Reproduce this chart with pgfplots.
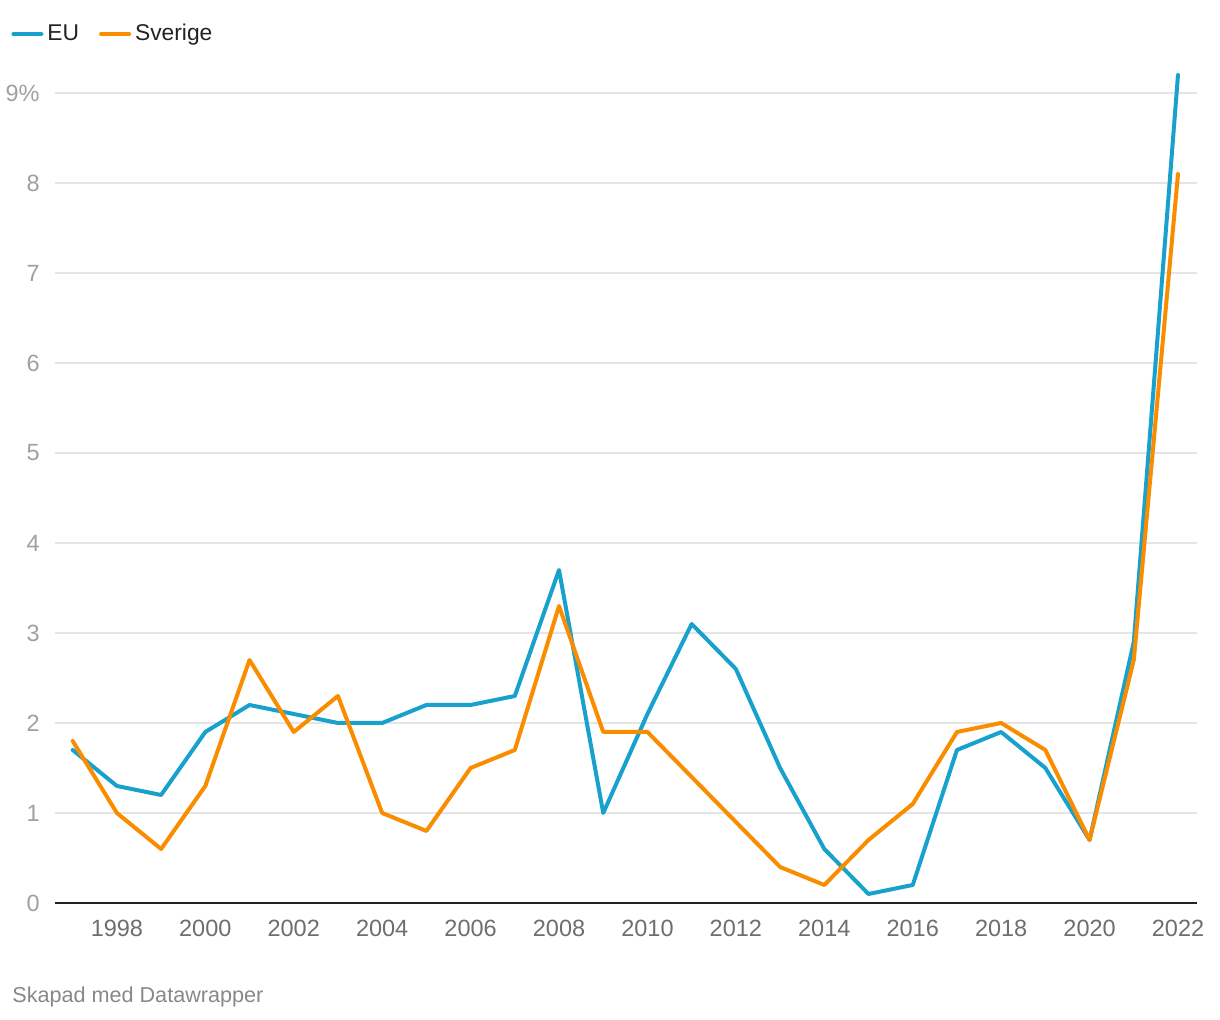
\documentclass[border=0pt]{standalone}
\usepackage{pgfplots}
\pgfplotsset{compat=1.18}
\usepackage{fontspec}
\setmainfont{Liberation Sans}
\definecolor{euc}{HTML}{18A1CD}
\definecolor{sec}{HTML}{FA8C00}
\definecolor{gridc}{HTML}{E5E5E5}
\definecolor{ylab}{HTML}{A0A0A0}
\definecolor{xlab}{HTML}{6E6E6E}
\definecolor{foot}{HTML}{888888}
\definecolor{legt}{HTML}{222222}
\begin{document}
\begin{tikzpicture}
\path[use as bounding box] (0,0) rectangle (610pt,510pt);
\begin{axis}[
  at={(27.5pt,58.5pt)}, anchor=south west,
  scale only axis, width=571pt, height=405pt,
  xmin=1996.6, xmax=2022.43, ymin=0, ymax=9,
  clip=false,
  axis x line*=bottom, axis y line*=left,
  y axis line style={draw=none},
  x axis line style={draw=legt, line width=1pt, -},
  major tick length=0pt,
  ymajorgrids, grid style={gridc, line width=0.75pt},
  xtick={1998,2000,...,2022},
  ytick={0,1,...,9},
  yticklabels={0,1,2,3,4,5,6,7,8,9\%},
  /pgf/number format/assume math mode=true,
  /pgf/number format/1000 sep={},
  xticklabel style={font=\fontsize{11.75}{14}\selectfont, text=xlab, anchor=north, inner sep=0pt, yshift=-8.5pt},
  yticklabel style={font=\fontsize{11.75}{14}\selectfont, text=ylab, anchor=east, inner sep=0pt, xshift=-7.5pt},
  legend columns=2,
  legend style={draw=none, fill=none, at={(0,1)}, anchor=west, xshift=-25pt, yshift=29.5pt,
    font=\fontsize{11.4}{14}\selectfont, text=legt,
    /tikz/every even column/.append style={column sep=8pt}},
  legend image code/.code={\draw[line width=2pt, line cap=round] (0pt,0pt) -- (14pt,0pt);},
]
\addplot[euc, line width=2pt, line join=round, line cap=round] coordinates {
(1997,1.7)(1998,1.3)(1999,1.2)(2000,1.9)(2001,2.2)(2002,2.1)(2003,2.0)(2004,2.0)(2005,2.2)(2006,2.2)(2007,2.3)(2008,3.7)(2009,1.0)(2010,2.1)(2011,3.1)(2012,2.6)(2013,1.5)(2014,0.6)(2015,0.1)(2016,0.2)(2017,1.7)(2018,1.9)(2019,1.5)(2020,0.7)(2021,2.9)(2022,9.2)
};
\addlegendentry{EU}
\addplot[sec, line width=2pt, line join=round, line cap=round] coordinates {
(1997,1.8)(1998,1.0)(1999,0.6)(2000,1.3)(2001,2.7)(2002,1.9)(2003,2.3)(2004,1.0)(2005,0.8)(2006,1.5)(2007,1.7)(2008,3.3)(2009,1.9)(2010,1.9)(2011,1.4)(2012,0.9)(2013,0.4)(2014,0.2)(2015,0.7)(2016,1.1)(2017,1.9)(2018,2.0)(2019,1.7)(2020,0.7)(2021,2.7)(2022,8.1)
};
\addlegendentry{Sverige}
\end{axis}
\node[anchor=west, inner sep=0pt, text=foot, font=\fontsize{10.8}{13}\selectfont] at (6pt,11.5pt) {Skapad med Datawrapper};
\end{tikzpicture}
\end{document}
